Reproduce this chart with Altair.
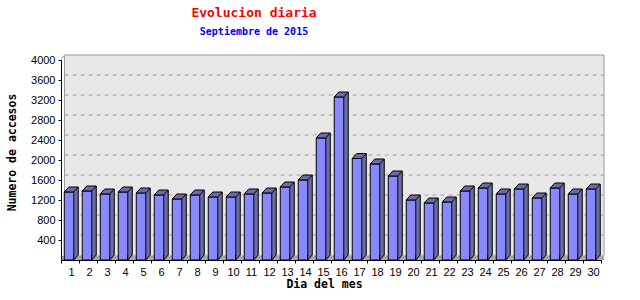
import altair as alt
import pandas as pd

dias = [str(d) for d in range(1, 31)]
accesos = [1360, 1380, 1320, 1360, 1340, 1300, 1220, 1300, 1260, 1260,
           1320, 1340, 1460, 1600, 2440, 3260, 2030, 1920, 1680, 1200,
           1140, 1160, 1380, 1440, 1320, 1420, 1240, 1440, 1320, 1420]
ticks_y = [400, 800, 1200, 1600, 2000, 2400, 2800, 3200, 3600, 4000]
grid_y = [400, 800, 1200, 1600, 2000, 2400, 2800, 3200, 3600]

titulo = "Evolucion diaria"
subtitulo = "Septiembre de 2015"
titulo_x = "Dia del mes"
titulo_y = "Numero de accesos"

FRONT = "#8888ff"
SIDE = "#6b6ba8"
MONO = "DejaVu Sans Mono"
SANS = "Liberation Sans"

df = pd.DataFrame({"dia": dias, "accesos": accesos})
df_grid = pd.DataFrame({"accesos": grid_y})
df_one = pd.DataFrame({"a": [0]})

xscale = alt.Scale(type="band", domain=dias, paddingInner=0, paddingOuter=0)
yscale = alt.Scale(domain=[0, 4000], nice=False)
y_axis = alt.Axis(title=titulo_y, values=ticks_y, tickCount=20, grid=False, format="d",
                  labelOverlap=False)

X = alt.X("dia:N", scale=xscale, sort=dias,
          axis=alt.Axis(title=titulo_x, labelAngle=0, tickBand="extent",
                        labelOffset=1, labelPadding=3))
Y = alt.Y("accesos:Q", scale=yscale, axis=y_axis)

panel = alt.Chart(df_one).mark_rect(fill="#e8e8e8", stroke="#9a9a9a", strokeWidth=1).encode(
    x=alt.value(3.5), x2=alt.value(543), y=alt.value(-5), y2=alt.value(196))
wall = alt.Chart(df_one).mark_rule(color="#9a9a9a").encode(
    x=alt.value(0), x2=alt.value(3.5), y=alt.value(0), y2=alt.value(-5))
floor = alt.Chart(df_one).mark_rect(fill="#a8a8a8").encode(
    x=alt.value(1), x2=alt.value(543), y=alt.value(196), y2=alt.value(200))

grid = alt.Chart(df_grid).mark_rule(color="#a0a0a0", strokeDash=[4, 4], yOffset=-5).encode(
    y=Y, x=alt.value(3.5), x2=alt.value(543))

side = alt.Chart(df).mark_bar(color=SIDE, width=4.5, xOffset=6, yOffset=-5, y2Offset=-5).encode(
    x=X, y=Y)
side_edge = alt.Chart(df).mark_rule(color="black", strokeWidth=1, xOffset=8.25, yOffset=-5, y2Offset=-5).encode(
    x=X, y=Y, y2=alt.datum(0))
front = alt.Chart(df).mark_bar(color=FRONT, stroke="black", strokeWidth=1, width=9.5, xOffset=-1).encode(
    x=X, y=Y)
top = alt.Chart(df).mark_point(
    shape="M -1 0.357 L 0.357 0.357 L 1 -0.357 L -0.357 -0.357 Z",
    size=196, filled=True, fill=SIDE, stroke="black", strokeWidth=1, opacity=1,
    xOffset=1.25, yOffset=-2.5).encode(x=X, y=Y)
bottom = alt.Chart(df).mark_point(
    shape="M -0.9 -1 L -0.9 1 L 0.9 -1",
    size=25, filled=True, fill=SIDE, stroke="black", strokeWidth=1, opacity=1,
    xOffset=6, yOffset=-2.5).encode(x=X, y=alt.datum(0))

chart = alt.layer(panel, wall, floor, grid, side, side_edge, front, top, bottom).properties(
    width=540, height=200,
    padding={"left": 61, "top": 60, "right": 39, "bottom": 40},
    autosize=alt.AutoSizeParams(type="none"),
    title=alt.TitleParams(
        text=titulo, subtitle=subtitulo, anchor="middle", dx=-77, offset=17,
        font=MONO, fontSize=13, fontWeight="bold", color="#ff0000",
        subtitleFont=MONO, subtitleFontSize=10, subtitleFontWeight="bold",
        subtitleColor="#0000ff", subtitlePadding=7),
).configure_view(stroke=None).configure_axis(
    domainColor="black", tickColor="black", tickSize=3, labelFont=SANS, labelFontSize=11,
    labelColor="black", titleFont=MONO, titleFontSize=11.5, titleFontWeight="bold",
    titleColor="black",
).configure_axisY(labelPadding=3, titleX=-44, titleY=92, titleAngle=-90,
                  labelOverlap=False
).configure_axisX(titleX=263, titleY=27, titleBaseline="alphabetic")

chart.save("out.html", embed_options={"renderer": "svg", "actions": False})
